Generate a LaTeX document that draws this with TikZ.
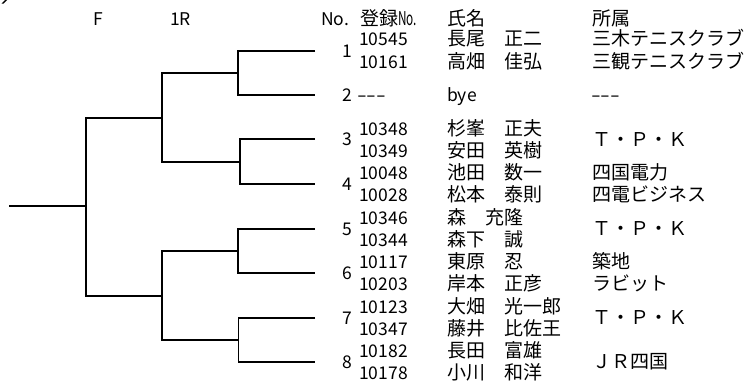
\documentclass[tikz,border=0pt]{standalone}
\usepackage{fontspec}
\setmainfont{Noto Sans CJK JP}
\newcommand{\fj}{\fontsize{19}{19}\selectfont}
\newcommand{\fl}{\fontsize{17.5}{17.5}\selectfont}
\newcommand{\tripledash}{\scalebox{1.6}[1]{-{}-{}-}}
\tikzset{
  jt/.style={inner sep=0pt, anchor=base west, font=\fj},
  lt/.style={inner sep=0pt, anchor=base west, font=\fl},
  mn/.style={inner sep=0pt, anchor=base east, font=\fl},
  br/.style={line width=1.8pt, line join=miter},
}
\begin{document}
\begin{tikzpicture}[x=1pt,y=-1pt]
\useasboundingbox (0,0) rectangle (748,388);
% tiny mark at top-left corner
\fill (1.5,3.5) -- (5,0) -- (7,0) -- (3.5,3.5) -- cycle;
% headers
\node[lt] (hF) at (93,25) {F};
\node[lt] (h1R) at (170,25) {1R};
\node[lt] (hNo) at (321,25) {No.};
\node[jt] (hReg) at (360,25) {登録\scalebox{0.62}[1]{No.}};
\node[jt] (hName) at (447,25) {氏名};
\node[jt] (hClub) at (592,25) {所属};
% bracket coordinates
\coordinate (e1) at (315,50.7);
\coordinate (e2) at (315,95);
\coordinate (e3) at (315,139.3);
\coordinate (e4) at (315,184);
\coordinate (e5) at (315,229);
\coordinate (e6) at (315,272.7);
\coordinate (e7) at (315,317.7);
\coordinate (e8) at (315,362.3);
\coordinate (j12) at (238.3,72.7);
\coordinate (j34) at (240,162.3);
\coordinate (j56) at (238.3,250.7);
\coordinate (j78) at (238.5,340);
\coordinate (s1) at (162.3,117.7);
\coordinate (s2) at (162.3,295.7);
\coordinate (root) at (86,206);
\coordinate (w) at (9.3,206);
% bracket lines
\draw[br] (e1) -| (j12) |- (e2);
\draw[br] (e3) -| (j34) |- (e4);
\draw[br] (e5) -| (j56) |- (e6);
\draw[br] (e7) -| (j78) |- (e8);
\draw[br] (j12) -| (s1) |- (j34);
\draw[br] (j56) -| (s2) |- (j78);
\draw[br] (s1) -| (root) |- (s2);
\draw[br] (root) -- (w);
% match 1
\node[mn] (n1) at (352,57) {1};
\node[lt] (r1a) at (359,45.7) {10545};
\node[lt] (r1b) at (359,68.7) {10161};
\node[jt] (p1a) at (447,45.7) {長尾　正二};
\node[jt] (p1b) at (447,68.7) {高畑　佳弘};
\node[jt] (c1a) at (592,45.7) {三木テニスクラブ};
\node[jt] (c1b) at (592,68.7) {三観テニスクラブ};
% match 2
\node[mn] (n2) at (352,101.4) {2};
\node[lt] (r2) at (357,101.7) {\tripledash};
\node[lt] (p2) at (447,101.7) {bye};
\node[lt] (c2) at (591,101.7) {\tripledash};
% match 3
\node[mn] (n3) at (352,145.8) {3};
\node[lt] (r3a) at (359,135.7) {10348};
\node[lt] (r3b) at (359,157.7) {10349};
\node[jt] (p3a) at (447,135.7) {杉峯　正夫};
\node[jt] (p3b) at (447,157.7) {安田　英樹};
\node[jt] (c3) at (592,146.2) {Ｔ・Ｐ・Ｋ};
% match 4
\node[mn] (n4) at (352,190.5) {4};
\node[lt] (r4a) at (359,179.7) {10048};
\node[lt] (r4b) at (359,201.7) {10028};
\node[jt] (p4a) at (447,179.7) {池田　数一};
\node[jt] (p4b) at (447,201.7) {松本　泰則};
\node[jt] (c4a) at (592,179.7) {四国電力};
\node[jt] (c4b) at (592,201.7) {四電ビジネス};
% match 5
\node[mn] (n5) at (352,235.5) {5};
\node[lt] (r5a) at (359,224.7) {10346};
\node[lt] (r5b) at (359,246.7) {10344};
\node[jt] (p5a) at (447,224.7) {森　充隆};
\node[jt] (p5b) at (447,246.7) {森下　誠};
\node[jt] (c5) at (592,235.7) {Ｔ・Ｐ・Ｋ};
% match 6
\node[mn] (n6) at (352,279.5) {6};
\node[lt] (r6a) at (359,268.7) {10117};
\node[lt] (r6b) at (359,290.7) {10203};
\node[jt] (p6a) at (447,268.7) {東原　忍};
\node[jt] (p6b) at (447,290.7) {岸本　正彦};
\node[jt] (c6a) at (592,268.7) {築地};
\node[jt] (c6b) at (592,290.7) {ラビット};
% match 7
\node[mn] (n7) at (352,324.5) {7};
\node[lt] (r7a) at (359,313.7) {10123};
\node[lt] (r7b) at (359,335.7) {10347};
\node[jt] (p7a) at (447,313.7) {大畑　光一郎};
\node[jt] (p7b) at (447,335.7) {藤井　比佐王};
\node[jt] (c7) at (592,324.7) {Ｔ・Ｐ・Ｋ};
% match 8
\node[mn] (n8) at (352,368.8) {8};
\node[lt] (r8a) at (359,357.7) {10182};
\node[lt] (r8b) at (359,379.7) {10178};
\node[jt] (p8a) at (447,357.7) {長田　富雄};
\node[jt] (p8b) at (447,379.7) {小川　和洋};
\node[jt] (c8) at (592,368.7) {ＪＲ四国};
\end{tikzpicture}
\end{document}
